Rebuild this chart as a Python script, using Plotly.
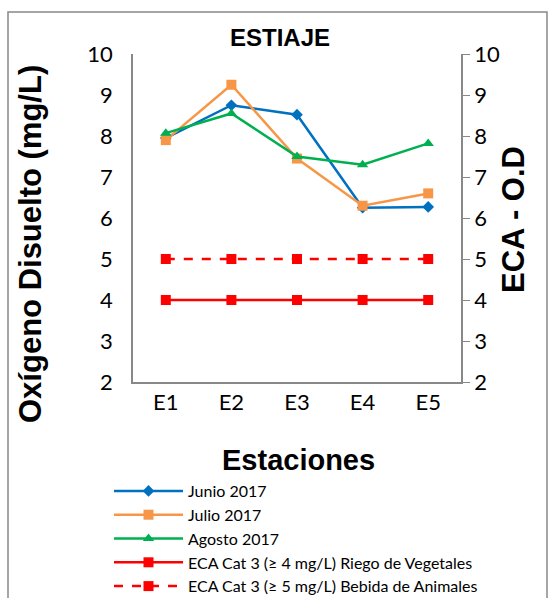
import plotly.graph_objects as go

estaciones = ["E1", "E2", "E3", "E4", "E5"]
junio_2017 = [7.95, 8.75, 8.52, 6.25, 6.27]
julio_2017 = [7.9, 9.25, 7.45, 6.3, 6.6]
agosto_2017 = [8.07, 8.55, 7.5, 7.3, 7.82]
eca_riego = [4, 4, 4, 4, 4]
eca_bebida = [5, 5, 5, 5, 5]
y_ticks = [2, 3, 4, 5, 6, 7, 8, 9, 10]

W, H = 550, 598
L, R, T, B = 133, 89, 54, 216
pw, ph = W - L - R, H - T - B


def px_x(x):
    return (x - L) / pw


def px_y(y):
    return (H - B - y) / ph


tick_font = dict(family="Lato, Carlito, sans-serif", size=22, color="black")
bold_font = "Liberation Sans, Arial, sans-serif"

fig = go.Figure()
fig.add_trace(go.Scatter(x=estaciones, y=junio_2017, name="Junio 2017", mode="lines+markers",
                         line=dict(color="#0070C0", width=2.5),
                         marker=dict(symbol="diamond", size=9, color="#0070C0")))
fig.add_trace(go.Scatter(x=estaciones, y=julio_2017, name="Julio 2017", mode="lines+markers",
                         line=dict(color="#F79646", width=2.5),
                         marker=dict(symbol="square", size=10, color="#F79646")))
fig.add_trace(go.Scatter(x=estaciones, y=agosto_2017, name="Agosto 2017", mode="lines+markers",
                         line=dict(color="#00B050", width=2.5),
                         marker=dict(symbol="triangle-up", size=10, color="#00B050")))
fig.add_trace(go.Scatter(x=estaciones, y=eca_riego, name="ECA Cat 3 (≥ 4 mg/L) Riego de Vegetales",
                         mode="lines+markers", line=dict(color="#FF0000", width=2.5),
                         marker=dict(symbol="square", size=10, color="#FF0000")))
fig.add_trace(go.Scatter(x=estaciones, y=eca_bebida, name="ECA Cat 3 (≥ 5 mg/L) Bebida de Animales",
                         mode="lines+markers", line=dict(color="#FF0000", width=2.5, dash="dash"),
                         marker=dict(symbol="square", size=10, color="#FF0000")))
# invisible trace to carry the secondary axis
fig.add_trace(go.Scatter(x=estaciones, y=eca_bebida, yaxis="y2", showlegend=False,
                         mode="lines", line=dict(width=0), hoverinfo="skip", opacity=0))

fig.update_layout(
    width=W, height=H,
    margin=dict(l=L, r=R, t=T, b=B, autoexpand=False),
    paper_bgcolor="white", plot_bgcolor="white",
    showlegend=True,
    title=dict(text="<b>ESTIAJE</b>", x=px_x(280), xref="paper", xanchor="center",
               y=1 - 38 / H, yanchor="middle", font=dict(family=bold_font, size=24, color="black")),
    xaxis=dict(range=[-0.5, 4.5], showline=True, linecolor="#888888", linewidth=1.5,
               ticks="", tickfont=tick_font, showgrid=False, zeroline=False, automargin=False),
    yaxis=dict(range=[2, 10], tickvals=y_ticks, showline=True, linecolor="#888888", linewidth=1.5,
               ticks="", tickfont=tick_font, showgrid=False, zeroline=False, ticklabelstandoff=14,
               automargin=False),
    yaxis2=dict(range=[2, 10], tickvals=y_ticks, overlaying="y", side="right", showline=True,
                linecolor="#888888", linewidth=1.5, ticks="outside", ticklen=7, tickcolor="#888888",
                tickfont=tick_font, showgrid=False, zeroline=False, automargin=False),
    legend=dict(x=px_x(109), xanchor="left", y=px_y(474), yanchor="top",
                font=dict(family="Lato, Carlito, sans-serif", size=16, color="black"),
                itemwidth=69, tracegroupgap=0, bgcolor="rgba(0,0,0,0)"),
    annotations=[
        dict(text="<b>Oxígeno Disuelto (mg/L)</b>", xref="paper", yref="paper",
             x=px_x(30), y=px_y(244), textangle=-90, showarrow=False,
             xanchor="center", yanchor="middle", font=dict(family=bold_font, size=31, color="black")),
        dict(text="<b>ECA - O.D</b>", xref="paper", yref="paper",
             x=px_x(513), y=px_y(220), textangle=-90, showarrow=False,
             xanchor="center", yanchor="middle", font=dict(family=bold_font, size=31, color="black")),
        dict(text="<b>Estaciones</b>", xref="paper", yref="paper",
             x=px_x(298), y=px_y(460), showarrow=False,
             xanchor="center", yanchor="middle", font=dict(family=bold_font, size=29, color="black")),
    ],
    shapes=[dict(type="rect", xref="paper", yref="paper",
                 x0=px_x(8), x1=px_x(547), y0=px_y(605), y1=px_y(12),
                 line=dict(color="#888888", width=1.5), layer="below")],
)

fig.write_html("out.html", config={"displayModeBar": False},
               post_script="document.body.style.margin='0px';")
